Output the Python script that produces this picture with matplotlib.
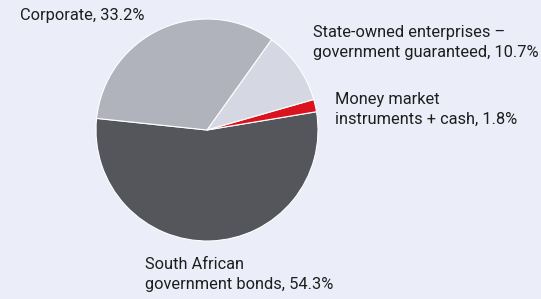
import matplotlib.pyplot as plt

labels = ["South African\ngovernment bonds, 54.3%",
          "Money market\ninstruments + cash, 1.8%",
          "State-owned enterprises \u2013\ngovernment guaranteed, 10.7%",
          "Corporate, 33.2%"]
shares = [54.3, 1.8, 10.7, 33.2]
colors = ["#55565c", "#d9141f", "#d5d8e2", "#b0b3bb"]

bg = "#ebedf8"
W, H = 541, 299
fig = plt.figure(figsize=(W / 100, H / 100), dpi=100, facecolor=bg)
ax = fig.add_axes([0, 0, 1, 1])
ax.set_facecolor(bg)

# pie in pixel coordinates (y measured from the top of the picture)
ax.pie(shares, colors=colors, startangle=174, counterclock=True,
       center=(207, H - 130), radius=111,
       wedgeprops=dict(edgecolor="white", linewidth=0.8))
ax.set_xlim(0, W)
ax.set_ylim(0, H)
ax.set_aspect("equal")
ax.axis("off")

# label anchors (left, top) in pixels from top-left
pos = [(145, 257), (335, 92), (313, 25), (20, 8)]
for lab, (x, y) in zip(labels, pos):
    ax.text(x, H - y, lab, ha="left", va="top", fontsize=11.8,
            family="Roboto", color="#1e1e1e", linespacing=1.38)

fig.savefig("out.png", dpi=100, facecolor=bg)
